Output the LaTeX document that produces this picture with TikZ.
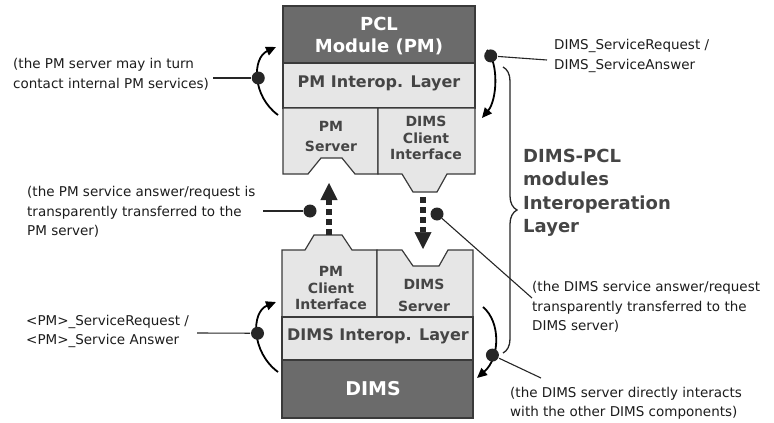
\documentclass[tikz,border=0pt]{standalone}
\usepackage{fontspec}
\setmainfont{DejaVu Sans}
\usetikzlibrary{arrows.meta,decorations.pathreplacing}

\definecolor{boxdark}{HTML}{6B6B6B}
\definecolor{boxlight}{HTML}{E6E6E6}
\definecolor{edgegray}{HTML}{3A3A3A}
\definecolor{labelgray}{HTML}{454545}
\definecolor{notegray}{HTML}{1C1C1C}

\begin{document}
\begin{tikzpicture}[x=1pt,y=-1pt,
  part/.style={draw=edgegray,line width=1.2pt,fill=boxlight},
  corepart/.style={draw=edgegray,line width=1.2pt,fill=boxdark},
  boxlbl/.style={text=labelgray,font=\bfseries\fontsize{14}{16.5}\selectfont,align=center,inner sep=0pt},
  corelbl/.style={text=white,font=\bfseries\fontsize{18}{22}\selectfont,align=center,inner sep=0pt},
  layerlbl/.style={text=labelgray,font=\bfseries\fontsize{16}{19}\selectfont,inner sep=0pt},
  note/.style={text=notegray,font=\fontsize{13.5}{19.5}\selectfont,align=left,inner sep=0pt,anchor=west},
  dot/.style={circle,fill=black!85,inner sep=0pt,minimum size=13pt},
  flow/.style={line width=1.8pt,-{Triangle[length=10pt,width=9pt]}},
  lead/.style={line width=1.1pt,draw=black!85},
  transfer/.style={line width=6pt,draw=black!85,dash pattern=on 6pt off 4pt,
    -{Triangle[length=17pt,width=17pt,line width=0.5pt]}},
]
\useasboundingbox (0,0) rectangle (774,423);

% ---- PCL module stack ----
\path[corepart] (283,6) rectangle (475,63);
\path[part] (283,63) rectangle (475,108);
\path[part] (283,108) -- (378,108) -- (378,174) -- (355,174) -- (342,158)
  -- (321,158) -- (308,174) -- (283,174) -- cycle;
\path[part] (378,108) -- (475,108) -- (475,174) -- (447,174) -- (437,192)
  -- (413,192) -- (402,174) -- (378,174) -- cycle;

\node[corelbl] (pm) at (379,36) {PCL\\Module (PM)};
\node[layerlbl] (pmlayer) at (379,83) {PM Interop. Layer};
\node[boxlbl,font=\bfseries\fontsize{14}{20}\selectfont] (pmserver) at (331,136) {PM\\Server};
\node[boxlbl] (dimsclient) at (426,138) {DIMS\\Client\\Interface};

% ---- DIMS stack ----
\path[part] (282,250) -- (305,250) -- (314,235) -- (342,235) -- (352,250)
  -- (377,250) -- (377,317) -- (282,317) -- cycle;
\path[part] (377,250) -- (402,250) -- (413,266) -- (439,266) -- (448,250)
  -- (473,250) -- (473,317) -- (377,317) -- cycle;
\path[part] (282,317) rectangle (473,360);
\path[corepart] (282,360) rectangle (473,418);

\node[boxlbl] (pmclient) at (331,288) {PM\\Client\\Interface};
\node[boxlbl,font=\bfseries\fontsize{14}{22}\selectfont] (dimsserver) at (424,295) {DIMS\\Server};
\node[layerlbl] (dimslayer) at (378,336) {DIMS Interop. Layer};
\node[corelbl,font=\bfseries\fontsize{19}{22}\selectfont] (dims) at (373,389) {DIMS};

% ---- transparent transfers between the stacks ----
\coordinate (upfrom) at (329,235);
\coordinate (upto) at (329,183);
\coordinate (downfrom) at (423,197);
\coordinate (downto) at (423,249);
\draw[transfer] (upfrom) -- (upto);
\draw[transfer] (downfrom) -- (downto);

% ---- local interactions ----
\draw[flow] (278,115) .. controls (252,96) and (252,58) .. node[dot,pos=0.5] (pmdot) {} (276,47);
\draw[flow] (487,50) .. controls (499,64) and (497,100) .. node[dot,pos=0.12] (dimsreqdot) {} (482,118);
\draw[flow] (278,372) .. controls (251,352) and (251,312) .. node[dot,pos=0.5] (pmreqdot) {} (276,302);
\draw[flow] (483,307) .. controls (501,322) and (500,358) .. node[dot,pos=0.68] (dimsdot) {} (477,378);

\node[dot] (uptransdot) at (310,211) {};
\node[dot] (downtransdot) at (437,214) {};

% ---- interoperation layer brace ----
\coordinate (bracetop) at (503,67);
\coordinate (bracebot) at (503,353);
\draw[line width=1.3pt,draw=black!85,decorate,decoration={brace,amplitude=14pt}] (bracetop) -- (bracebot);
\node[text=labelgray,font=\bfseries\fontsize{18}{23.5}\selectfont,align=left,inner sep=0pt,anchor=west]
  (iolayer) at (523,193) {DIMS-PCL\\modules\\Interoperation\\Layer};

% ---- annotations ----
\node[note] (pmnote) at (13,74.5) {(the PM server may in turn\\contact internal PM services)};
\node[note] (dimsreqnote) at (554,56) {DIMS\_ServiceRequest /\\DIMS\_ServiceAnswer};
\node[note] (uptransnote) at (27,212) {(the PM service answer/request is\\transparently transferred to the\\PM server)};
\node[note] (downtransnote) at (532,307) {(the DIMS service answer/request\\transparently transferred to the\\DIMS server)};
\node[note] (pmreqnote) at (26,331.5) {<PM>\_ServiceRequest /\\<PM>\_Service Answer};
\node[note] (dimsnote) at (510,403.5) {(the DIMS server directly interacts\\with the other DIMS components)};

\coordinate (pmnoteend) at (213,78);
\coordinate (dimsreqnoteend) at (547,60);
\coordinate (uptransnoteend) at (263,211);
\coordinate (downtransnoteend) at (532,298);
\coordinate (pmreqnoteend) at (197,333);
\coordinate (dimsnoteend) at (541,378);

\draw[lead] (pmdot) -- (pmnoteend);
\draw[lead] (dimsreqdot) -- (dimsreqnoteend);
\draw[lead] (uptransdot) -- (uptransnoteend);
\draw[lead] (downtransdot) -- (downtransnoteend);
\draw[lead] (pmreqdot) -- (pmreqnoteend);
\draw[lead] (dimsdot) -- (dimsnoteend);
\end{tikzpicture}
\end{document}
